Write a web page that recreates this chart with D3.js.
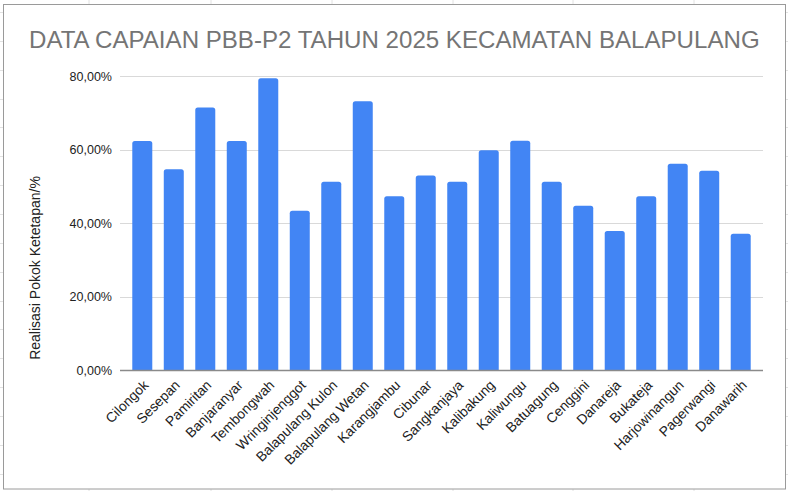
<!DOCTYPE html>
<html>
<head>
<meta charset="utf-8">
<script src="https://cdn.jsdelivr.net/npm/d3@7"></script>
<style>
  html, body { margin: 0; padding: 0; background: #fff; }
  svg { display: block; font-family: "Liberation Sans", Arial, sans-serif; }
</style>
</head>
<body>
<svg id="chart" width="788" height="491"></svg>
<script>
const categories = ["Cilongok","Sesepan","Pamiritan","Banjaranyar","Tembongwah","Wringinjenggot","Balapulang Kulon","Balapulang Wetan","Karangjambu","Cibunar","Sangkanjaya","Kalibakung","Kaliwungu","Batuagung","Cenggini","Danareja","Bukateja","Harjowinangun","Pagerwangi","Danawarih"];
const values = [62.3, 54.6, 71.4, 62.3, 79.4, 43.3, 51.2, 73.1, 47.3, 52.9, 51.2, 59.8, 62.4, 51.2, 44.7, 37.8, 47.3, 56.1, 54.2, 37.1];
const yTicks = [0, 20, 40, 60, 80];
const title = "DATA CAPAIAN PBB-P2 TAHUN 2025 KECAMATAN BALAPULANG";
const yTitle = "Realisasi Pokok Ketetapan/%";

const svg = d3.select("#chart");
const W = 788, H = 491;

// spreadsheet grid behind the chart box
const sheet = svg.append("g");
const vLines = [89, 211, 332, 453, 573, 694];
const hLines = d3.range(12, H, 28.85);
sheet.selectAll("line.v").data(vLines).join("line")
  .attr("x1", d => d).attr("x2", d => d).attr("y1", 0).attr("y2", H)
  .attr("stroke", "#e2e2e2").attr("stroke-width", 1);
sheet.selectAll("line.h").data(hLines).join("line")
  .attr("x1", 0).attr("x2", W).attr("y1", d => Math.round(d) + 0.5).attr("y2", d => Math.round(d) + 0.5)
  .attr("stroke", "#e2e2e2").attr("stroke-width", 1);

// chart box
svg.append("rect").attr("x", 3.5).attr("y", 4.5).attr("width", 782).attr("height", 484.5)
  .attr("fill", "#fff").attr("stroke", "#9a9a9a").attr("stroke-width", 1);

const plot = { left: 120, right: 763, top: 76, bottom: 370 };

const x = d3.scaleBand().domain(categories).range([plot.left, plot.right])
  .paddingInner(0.365).paddingOuter(0.39);
const y = d3.scaleLinear().domain([0, 80]).range([plot.bottom, plot.top]);

// title
svg.append("text").attr("x", 29).attr("y", 48)
  .attr("font-size", 24.1).attr("fill", "#757575").text(title);

// gridlines
svg.append("g").selectAll("line").data(yTicks.filter(d => d > 0)).join("line")
  .attr("x1", plot.left).attr("x2", plot.right)
  .attr("y1", d => Math.round(y(d)) + 0.5).attr("y2", d => Math.round(y(d)) + 0.5)
  .attr("stroke", "#d9d9d9").attr("stroke-width", 1);

// y axis labels
const fmt = d => d3.format(".2f")(d).replace(".", ",") + "%";
const yAxis = d3.axisLeft(y).tickValues(yTicks).tickFormat(fmt).tickSize(0).tickPadding(8);
const yg = svg.append("g").attr("transform", `translate(${plot.left},0)`).call(yAxis);
yg.select(".domain").remove();
yg.selectAll("text").attr("font-size", 12.5).attr("fill", "#222")
  .attr("font-family", "'Liberation Sans', Arial, sans-serif");

// bars
const r = 2.5;
svg.append("g").selectAll("path").data(values).join("path")
  .attr("fill", "#4285f4")
  .attr("d", (d, i) => {
    const x0 = x(categories[i]), w = x.bandwidth(), y0 = y(d), yb = y(0);
    return `M${x0},${yb}V${y0 + r}Q${x0},${y0} ${x0 + r},${y0}H${x0 + w - r}Q${x0 + w},${y0} ${x0 + w},${y0 + r}V${yb}Z`;
  });

// x axis baseline
svg.append("line").attr("x1", plot.left).attr("x2", plot.right)
  .attr("y1", plot.bottom + 0.5).attr("y2", plot.bottom + 0.5)
  .attr("stroke", "#8a8a8a").attr("stroke-width", 1.6);

// x labels
const xAxis = d3.axisBottom(x).tickSize(0).tickPadding(0);
const xg = svg.append("g").attr("transform", `translate(0,${plot.bottom})`).call(xAxis);
xg.select(".domain").remove();
xg.selectAll(".tick text")
  .attr("font-size", 13.8).attr("fill", "#222")
  .attr("font-family", "'Liberation Sans', Arial, sans-serif")
  .attr("text-anchor", "end")
  .attr("dy", null).attr("y", 0)
  .attr("transform", "translate(7,16) rotate(-45)");

// y axis title
svg.append("text")
  .attr("transform", "translate(40,268) rotate(-90)")
  .attr("text-anchor", "middle").attr("font-size", 14).attr("fill", "#222")
  .text(yTitle);
</script>
</body>
</html>
